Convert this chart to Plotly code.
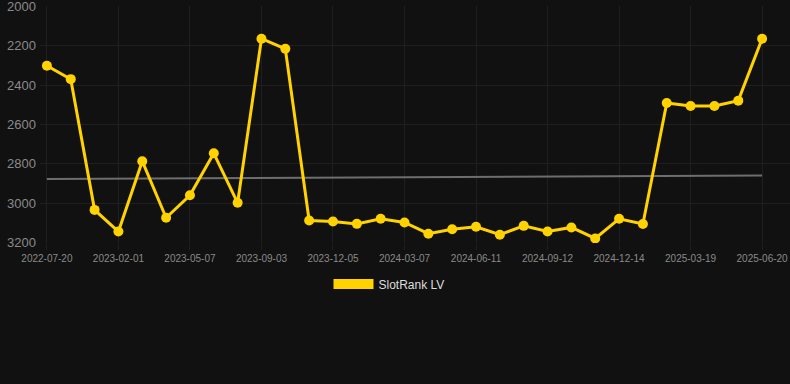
import plotly.graph_objects as go

dates = [
    "2022-07-20", "2022-10-05", "2022-12-10", "2023-02-01", "2023-03-05", "2023-04-06",
    "2023-05-07", "2023-06-08", "2023-07-10", "2023-09-03", "2023-10-05", "2023-11-04",
    "2023-12-05", "2024-01-06", "2024-02-06", "2024-03-07", "2024-04-08", "2024-05-10",
    "2024-06-11", "2024-07-12", "2024-08-12", "2024-09-12", "2024-10-13", "2024-11-13",
    "2024-12-14", "2025-01-15", "2025-02-16", "2025-03-19", "2025-04-19", "2025-05-20",
    "2025-06-20",
]
rank_lv = [
    2302, 2370, 3033, 3143, 2786, 3073, 2959, 2746, 2997, 2165, 2216,
    3087, 3092, 3104, 3078, 3097, 3154, 3131, 3119, 3159, 3114, 3143,
    3122, 3178, 3078, 3105, 2491, 2506, 2506, 2479, 2165,
]
trend_x = [dates[0], dates[-1]]
trend_y = [2877, 2859]
tick_dates = dates[::3]
y_ticks = [2000, 2200, 2400, 2600, 2800, 3000, 3200]

gold = "#FFD200"
font_family = "Arial, Liberation Sans, sans-serif"

fig = go.Figure()
fig.add_trace(go.Scatter(
    x=trend_x, y=trend_y, mode="lines",
    line=dict(color="#6e6e6e", width=2),
    showlegend=False, hoverinfo="skip",
))
fig.add_trace(go.Scatter(
    x=dates, y=rank_lv, mode="lines+markers",
    line=dict(color=gold, width=3),
    marker=dict(color=gold, size=10),
    name="SlotRank LV", showlegend=False,
))
fig.add_trace(go.Scatter(
    x=[None], y=[None], mode="lines",
    line=dict(color=gold, width=12),
    name="SlotRank LV", showlegend=True,
))

fig.update_layout(
    width=790, height=384,
    paper_bgcolor="#111111", plot_bgcolor="#111111",
    margin=dict(l=40, r=0, t=6, b=141),
    font=dict(family=font_family, color="#8a8a8a"),
    legend=dict(
        orientation="h", xref="container", yref="container",
        x=0.5 - 6 / 790, xanchor="center", y=1 - 284 / 384, yanchor="middle",
        font=dict(size=12, color="#dddddd"), itemwidth=40,
        bgcolor="rgba(0,0,0,0)",
    ),
    xaxis=dict(
        type="category", categoryorder="array", categoryarray=dates,
        range=[-0.29, 31.17],
        tickmode="array", tickvals=tick_dates, ticktext=tick_dates,
        tickangle=0,
        showgrid=True, gridcolor="#1f1f1f", gridwidth=1,
        ticks="outside", ticklen=6, tickcolor="#1f1f1f",
        tickfont=dict(size=10, color="#8a8a8a"),
        zeroline=False, showline=False,
    ),
    yaxis=dict(
        range=[3201, 1999],
        tickmode="array", tickvals=y_ticks,
        showgrid=True, gridcolor="#1f1f1f", gridwidth=1,
        tickfont=dict(size=13, color="#8a8a8a"),
        ticklabelstandoff=3, ticklabeloverflow="allow",
        zeroline=False, showline=False,
    ),
)

fig.write_html(
    "out.html",
    config={"displayModeBar": False},
    post_script="document.body.style.margin='0';document.body.style.background='#111111';",
)
